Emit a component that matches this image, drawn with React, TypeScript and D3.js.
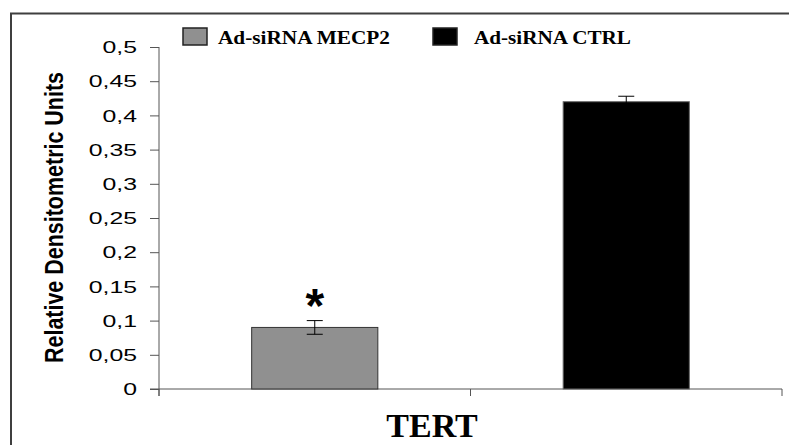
import * as d3 from 'd3';
import { useRef, useEffect } from 'react';

// CHART DATA
const SERIES = ['Ad-siRNA MECP2', 'Ad-siRNA CTRL'];
const VALUES = [0.09, 0.42];
const ERRORS = [0.01, 0.008];
const SIGNIFICANT = [true, false];
const Y_TICKS = [0, 0.05, 0.1, 0.15, 0.2, 0.25, 0.3, 0.35, 0.4, 0.45, 0.5];
const CATEGORY = 'TERT';
const Y_LABEL = 'Relative Densitometric Units';

// RENDERING SETUP
const W = 789;
const H = 445;
const PLOT = { LEFT: 159, RIGHT: 782, TOP: 47, BOTTOM: 389 };
const COLOR = {
  FRAME: '#3f3f3f',
  AXIS: '#555555',
  BAR: ['#909090', '#000000'],
  BAR_STROKE: ['#333333', '#666666'],
  TEXT: '#000000',
};

const App = () => {
  const svgRef = useRef<SVGSVGElement>(null);

  useEffect(() => {
    const svg = d3.select(svgRef.current);
    svg.selectAll('*').remove();

    const y = d3
      .scaleLinear()
      .domain([0, 0.5])
      .range([PLOT.BOTTOM, PLOT.TOP]);

    const x = d3
      .scaleBand<string>()
      .domain(SERIES)
      .range([PLOT.LEFT, PLOT.RIGHT])
      .paddingInner(0)
      .paddingOuter(0);

    const barW = x.bandwidth() * 0.405;

    // outer frame (runs off the picture at right and bottom)
    svg
      .append('rect')
      .attr('x', 11)
      .attr('y', 13.5)
      .attr('width', 900)
      .attr('height', 600)
      .attr('fill', 'none')
      .attr('stroke', COLOR.FRAME)
      .attr('stroke-width', 2);

    // y axis
    const yAxis = svg
      .append('g')
      .attr('transform', `translate(${PLOT.LEFT}, 0)`)
      .call(
        d3
          .axisLeft(y)
          .tickValues(Y_TICKS)
          .tickSize(9)
          .tickSizeOuter(0)
          .tickPadding(0)
          .tickFormat((d) => d3.format('')(+d).replace('.', ','))
      );
    yAxis.select('.domain').attr('stroke', COLOR.AXIS).attr('d', `M0,${PLOT.TOP}V${PLOT.BOTTOM + 7}`);
    yAxis.selectAll('.tick line').attr('stroke', COLOR.AXIS);
    yAxis
      .selectAll('.tick text')
      .attr('x', -22 / 1.55)
      .attr('dy', '0.36em')
      .attr('transform', 'scale(1.55,1)')
      .attr('font-family', 'Liberation Sans, Arial, sans-serif')
      .attr('font-size', 16)
      .attr('fill', COLOR.TEXT);

    // x axis
    const xAxis = svg.append('g');
    xAxis
      .append('line')
      .attr('x1', PLOT.LEFT - 9)
      .attr('x2', PLOT.RIGHT)
      .attr('y1', y(0))
      .attr('y2', y(0))
      .attr('stroke', COLOR.AXIS);
    const boundaries = [PLOT.LEFT, ...SERIES.map((s) => (x(s) as number) + x.bandwidth())];
    xAxis
      .selectAll('line.cat')
      .data(boundaries)
      .join('line')
      .attr('class', 'cat')
      .attr('x1', (d) => d)
      .attr('x2', (d) => d)
      .attr('y1', y(0))
      .attr('y2', y(0) + 7)
      .attr('stroke', COLOR.AXIS);

    // bars
    svg
      .append('g')
      .selectAll('rect')
      .data(SERIES)
      .join('rect')
      .attr('x', (d) => (x(d) as number) + (x.bandwidth() - barW) / 2)
      .attr('y', (d, i) => y(VALUES[i]))
      .attr('width', barW)
      .attr('height', (d, i) => y(0) - y(VALUES[i]))
      .attr('fill', (d, i) => COLOR.BAR[i])
      .attr('stroke', (d, i) => COLOR.BAR_STROKE[i])
      .attr('stroke-width', 1);

    // error bars
    const err = svg
      .append('g')
      .selectAll('g')
      .data(SERIES)
      .join('g')
      .attr('transform', (d) => `translate(${(x(d) as number) + x.bandwidth() / 2}, 0)`);
    err
      .append('line')
      .attr('y1', (d, i) => y(VALUES[i] + ERRORS[i]))
      .attr('y2', (d, i) => y(VALUES[i] - ERRORS[i]))
      .attr('stroke', (d, i) => (i === 1 ? COLOR.BAR[1] : '#000'));
    err
      .append('line')
      .attr('x1', -8)
      .attr('x2', 8)
      .attr('y1', (d, i) => y(VALUES[i] + ERRORS[i]))
      .attr('y2', (d, i) => y(VALUES[i] + ERRORS[i]))
      .attr('stroke', '#000');
    err
      .append('line')
      .attr('x1', -8)
      .attr('x2', 8)
      .attr('y1', (d, i) => y(VALUES[i] - ERRORS[i]))
      .attr('y2', (d, i) => y(VALUES[i] - ERRORS[i]))
      .attr('stroke', '#000');

    // significance marks
    err
      .filter((d, i) => SIGNIFICANT[i])
      .append('text')
      .attr('y', (d) => y(VALUES[SERIES.indexOf(d)] + ERRORS[SERIES.indexOf(d)]) + 1)
      .attr('text-anchor', 'middle')
      .attr('font-family', 'Liberation Sans, Arial, sans-serif')
      .attr('font-weight', 'bold')
      .attr('font-size', 48)
      .attr('fill', COLOR.TEXT)
      .text('*');

    // y label
    svg
      .append('text')
      .attr('transform', `translate(63, ${(72 + 363) / 2}) rotate(-90)`)
      .attr('text-anchor', 'middle')
      .attr('font-family', 'Liberation Sans, Arial, sans-serif')
      .attr('font-weight', 'bold')
      .attr('font-size', 25)
      .attr('textLength', 291)
      .attr('lengthAdjust', 'spacingAndGlyphs')
      .attr('fill', COLOR.TEXT)
      .text(Y_LABEL);

    // category label
    svg
      .append('text')
      .attr('x', 432)
      .attr('y', 437)
      .attr('text-anchor', 'middle')
      .attr('font-family', 'Liberation Serif, Times New Roman, serif')
      .attr('font-weight', 'bold')
      .attr('font-size', 34)
      .attr('fill', COLOR.TEXT)
      .text(CATEGORY);

    // legend
    const legendX = [183, 433];
    const legendW = [172, 157];
    const legend = svg
      .append('g')
      .selectAll('g')
      .data(SERIES)
      .join('g')
      .attr('transform', (d, i) => `translate(${legendX[i]}, 28)`);
    legend
      .append('rect')
      .attr('width', 24)
      .attr('height', 17)
      .attr('fill', (d, i) => COLOR.BAR[i])
      .attr('stroke', '#222')
      .attr('stroke-width', 1.5);
    legend
      .append('text')
      .attr('x', (d, i) => (i === 0 ? 35 : 41))
      .attr('y', 16)
      .attr('font-family', 'Liberation Serif, Times New Roman, serif')
      .attr('font-weight', 'bold')
      .attr('font-size', 18)
      .attr('textLength', (d, i) => legendW[i])
      .attr('lengthAdjust', 'spacingAndGlyphs')
      .attr('fill', COLOR.TEXT)
      .text((d) => d);
  }, []);

  return (
    <svg
      ref={svgRef}
      width={W}
      height={H}
      style={{ position: 'absolute', left: 0, top: 0, background: '#fff' }}
    />
  );
};

export default App;
